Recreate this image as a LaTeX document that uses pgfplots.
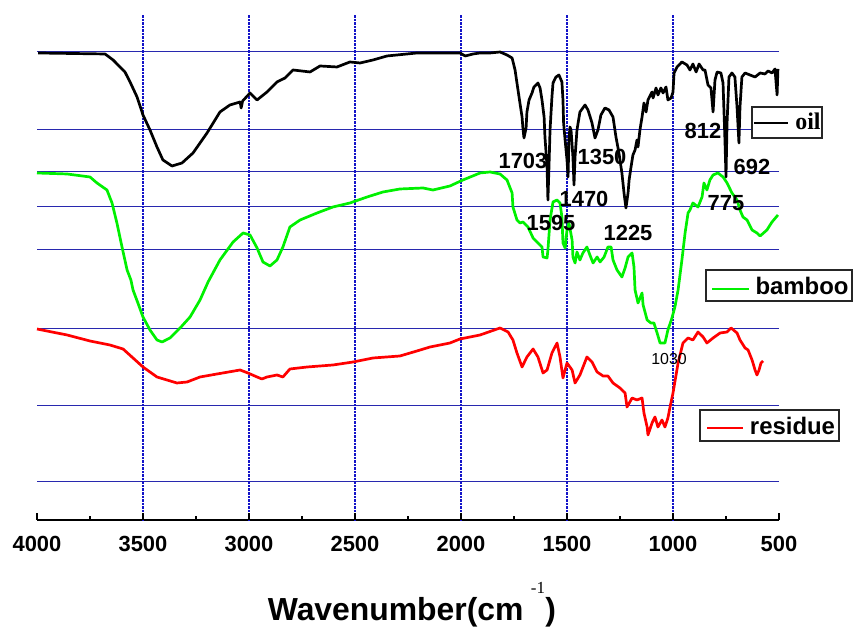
\documentclass[border=0pt]{standalone}
\usepackage{pgfplots}
\pgfplotsset{compat=1.18}
\usepackage{fontspec}
\setmainfont{Liberation Sans}
\newfontfamily\seriffont{Liberation Serif}
\definecolor{gridblue}{RGB}{40,40,175}
\definecolor{vgridblue}{RGB}{20,20,200}
\definecolor{curvegreen}{RGB}{0,240,0}

\begin{document}
\begin{tikzpicture}[x=1bp,y=1bp]
\useasboundingbox (0,0) rectangle (853,631);
\begin{axis}[
  at={(37bp,111bp)}, anchor=south west,
  scale only axis, width=742bp, height=506bp,
  xmin=500, xmax=4000, ymin=-520, ymax=-14,
  x dir=reverse,
  separate axis lines,
  axis x line*=bottom, axis y line*=left,
  x axis line style={-, line width=2.4bp},
  y axis line style={draw=none},
  xtick={500,1000,1500,2000,2500,3000,3500,4000},
  minor x tick num=1,
  xtick pos=bottom,
  tick align=inside,
  major tick length=7bp, minor tick length=4bp,
  every tick/.style={black, line width=1.8bp},
  xticklabel style={font=\bfseries\fontsize{22}{22}\selectfont, yshift=-13bp},
  /pgf/number format/1000 sep={},
  /pgf/number format/assume math mode=true,
  extra x ticks={1000,1500,2000,2500,3000,3500},
  extra x tick labels={},
  extra x tick style={grid=major},
  major x grid style={densely dotted, vgridblue, line width=1.1bp},
  ytick={-482,-406,-329,-250,-207,-172,-130,-52},
  yticklabels={},
  ytick style={draw=none},
  ymajorgrids,
  major y grid style={gridblue, line width=1bp},
  clip=false,
]
% oil
\addplot[black, line width=2.7bp, line join=round] coordinates {
(3995,-53) (3679,-54) (3641,-60) (3585,-72) (3561,-82) (3528,-97) (3500,-115)
(3467,-130) (3434,-147) (3406,-160) (3363,-166) (3316,-163) (3264,-153)
(3198,-133) (3137,-112) (3090,-105) (3042,-102) (3037,-108) (3030,-101) (2995,-93) (2962,-100)
(2915,-92) (2868,-82) (2830,-78) (2792,-70) (2712,-72) (2665,-66) (2585,-67)
(2524,-62) (2476,-63) (2415,-60) (2349,-56) (2208,-53) (2005,-53) (1980,-56) (1943,-54)
(1910,-53) (1863,-53) (1816,-52) (1783,-55) (1759,-58) (1745,-70) (1736,-83)
(1722,-103) (1712,-117) (1708,-128) (1703,-138) (1693,-128) (1689,-112)
(1679,-100) (1665,-93) (1656,-87) (1637,-83) (1627,-88) (1618,-100)
(1608,-117) (1604,-137) (1594,-167) (1590,-200) (1585,-167) (1580,-130)
(1571,-97) (1566,-83) (1552,-77) (1538,-75) (1524,-82) (1519,-100)
(1516,-123) (1509,-140) (1500,-160) (1495,-177) (1491,-140) (1486,-127)
(1481,-130) (1472,-157) (1467,-185) (1462,-157) (1453,-130) (1439,-112)
(1415,-105) (1401,-110) (1382,-123) (1368,-138) (1354,-130) (1340,-115)
(1321,-108) (1302,-110) (1283,-117) (1269,-137) (1255,-153) (1241,-173)
(1231,-193) (1222,-208) (1212,-193) (1207,-180) (1198,-167) (1189,-155)
(1179,-150) (1170,-140) (1165,-147) (1156,-130) (1146,-117) (1137,-103)
(1127,-112) (1118,-100) (1099,-92) (1094,-98) (1080,-88) (1071,-95)
(1057,-88) (1047,-93) (1033,-87) (1024,-100) (1009,-98) (1000,-92)
(995,-73) (981,-67) (958,-62) (934,-65) (920,-70) (906,-64) (891,-72)
(877,-64) (858,-70) (849,-70) (835,-85) (821,-88) (811,-112) (802,-80)
(792,-72) (774,-73) (764,-83) (755,-140) (750,-177) (745,-123) (736,-77)
(722,-73) (708,-77) (698,-107) (689,-143) (684,-107) (675,-77) (660,-73)
(637,-75) (613,-77) (589,-73) (566,-74) (552,-71) (533,-73) (519,-69)
(509,-95) (505,-69)
};
% bamboo
\addplot[curvegreen, line width=2.7bp, line join=round] coordinates {
(4000,-173) (3858,-174) (3750,-177) (3717,-183) (3670,-190) (3646,-203)
(3623,-223) (3599,-247) (3575,-270) (3557,-280) (3547,-290) (3524,-303)
(3500,-317) (3467,-330) (3434,-340) (3410,-342) (3373,-338) (3325,-328)
(3278,-317) (3231,-300) (3193,-282) (3137,-260) (3075,-242) (3028,-233)
(2995,-235) (2962,-248) (2934,-262) (2901,-266) (2868,-260) (2840,-247)
(2807,-227) (2759,-220) (2679,-213) (2604,-207) (2524,-203) (2443,-197)
(2368,-192) (2288,-189) (2179,-188) (2132,-190) (2052,-186) (1991,-180)
(1910,-173) (1863,-172) (1816,-174) (1783,-180) (1759,-193) (1755,-207)
(1736,-220) (1722,-223) (1708,-222) (1684,-227) (1660,-238) (1637,-243)
(1618,-247) (1613,-257) (1594,-258) (1590,-250) (1580,-220) (1566,-202)
(1547,-200) (1533,-203) (1524,-217) (1519,-243) (1509,-248) (1500,-230)
(1491,-223) (1476,-240) (1472,-257) (1462,-263) (1453,-252) (1439,-260)
(1425,-253) (1406,-247) (1392,-255) (1377,-263) (1358,-257) (1344,-262)
(1325,-257) (1307,-247) (1292,-247) (1283,-260) (1264,-270) (1241,-277)
(1226,-268) (1212,-257) (1193,-253) (1184,-267) (1179,-290) (1165,-303)
(1146,-293) (1141,-305) (1122,-320) (1104,-323) (1090,-323) (1075,-333)
(1061,-343) (1038,-343) (1024,-330) (1005,-318) (991,-307) (976,-290)
(958,-260) (943,-233) (929,-213) (920,-210) (906,-203) (882,-207)
(863,-197) (854,-183) (840,-190) (826,-180) (811,-175) (788,-173)
(764,-177) (745,-183) (722,-193) (698,-200) (684,-210) (670,-217)
(651,-220) (627,-230) (604,-233) (589,-236) (557,-230) (533,-222) (505,-215)
};
% residue
\addplot[red, line width=2.7bp, line join=round] coordinates {
(4000,-329) (3858,-335) (3750,-341) (3656,-345) (3594,-349) (3547,-358)
(3500,-367) (3434,-377) (3340,-383) (3292,-382) (3231,-377) (3151,-374)
(3042,-370) (3005,-373) (2962,-377) (2939,-379) (2915,-377) (2868,-375)
(2840,-377) (2807,-369) (2726,-367) (2604,-365) (2509,-362) (2415,-358)
(2288,-356) (2208,-351) (2146,-347) (2052,-343) (2005,-339) (1910,-335)
(1816,-328) (1778,-332) (1755,-340) (1736,-353) (1712,-367) (1689,-357)
(1660,-349) (1637,-357) (1613,-373) (1594,-370) (1571,-353) (1547,-343)
(1533,-357) (1519,-378) (1500,-363) (1476,-370) (1462,-383) (1439,-375)
(1406,-357) (1382,-362) (1358,-372) (1330,-376) (1307,-376) (1283,-383)
(1250,-388) (1226,-393) (1217,-407) (1193,-398) (1170,-400) (1146,-398)
(1137,-413) (1122,-427) (1118,-435) (1099,-423) (1085,-417) (1071,-427)
(1052,-420) (1038,-427) (1024,-418) (1014,-407) (1000,-393) (976,-363)
(953,-343) (929,-338) (906,-340) (882,-332) (858,-337) (840,-343)
(811,-338) (778,-333) (745,-332) (726,-328) (698,-333) (684,-340)
(660,-348) (646,-350) (627,-360) (613,-370) (604,-375) (594,-370)
(585,-363) (575,-361)
};
\end{axis}
% peak labels
\begin{scope}[every node/.style={font=\bfseries\fontsize{22}{22}\selectfont, inner sep=0pt}]
\node at (523,470) {1703};
\node at (602,474) {1350};
\node at (584,432) {1470};
\node at (551,408) {1595};
\node at (628,398) {1225};
\node at (703,500) {812};
\node at (752,464) {692};
\node at (726,428) {775};
\end{scope}
\node[inner sep=0pt, font=\fontsize{16}{16}\selectfont] at (669,272) {1030};
% legend boxes
\draw[black!85, line width=1.2bp, fill=white] (752,493) rectangle (822,524);
\draw[black, line width=2.4bp] (754,508) -- (788,508);
\node[inner sep=0pt, font=\seriffont\bfseries\fontsize{24}{24}\selectfont] at (808,510) {oil};
\draw[black!85, line width=1.2bp, fill=white] (706,330) rectangle (852,361);
\draw[curvegreen, line width=2.4bp] (712,342) -- (749,342);
\node[inner sep=0pt, font=\bfseries\fontsize{24}{24}\selectfont] at (802,345) {bamboo};
\draw[black!85, line width=1.2bp, fill=white] (700,190) rectangle (839,221);
\draw[red, line width=2.4bp] (707,203) -- (743,203);
\node[inner sep=0pt, font=\bfseries\fontsize{24}{24}\selectfont] at (792.5,205) {residue};
% axis title
\node[inner sep=0pt, font=\bfseries\fontsize{32}{32}\selectfont] at (412,19) {Wavenumber(cm\hspace{22bp})};
\node[inner sep=0pt, font=\seriffont\fontsize{17}{17}\selectfont] at (538,43) {-1};
\end{tikzpicture}
\end{document}
